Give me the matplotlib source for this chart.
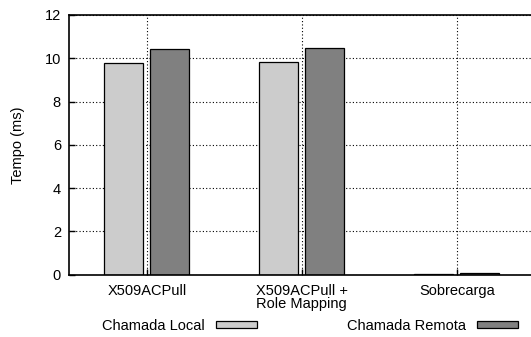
import matplotlib
matplotlib.use("Agg")
import matplotlib.pyplot as plt
import numpy as np

categories = ["X509ACPull", "X509ACPull +\nRole Mapping", "Sobrecarga"]
series_names = ["Chamada Local", "Chamada Remota"]
local_vals = [9.78, 9.81, 0.02]
remote_vals = [10.43, 10.46, 0.05]
yticks = [0, 2, 4, 6, 8, 10, 12]

plt.rcParams['font.family'] = ['Liberation Sans', 'DejaVu Sans']
FS = 10.5

fig = plt.figure(figsize=(5.31, 3.37), dpi=100)
ax = fig.add_axes([69.3/531, 1-274.5/337, 465/531, 259.5/337])

x = np.arange(len(categories))
w = 0.25
off = 0.148
ax.bar(x - off, local_vals, w, color="#cccccc", edgecolor="black", linewidth=0.9,
       label=series_names[0], zorder=3)
ax.bar(x + off, remote_vals, w, color="#808080", edgecolor="black", linewidth=0.9,
       label=series_names[1], zorder=3)

ax.set_xlim(-0.5, 2.5)
ax.set_ylim(0, 12)
ax.set_yticks(yticks)
ax.set_xticks(x)
ax.set_xticklabels(categories, fontsize=FS, linespacing=0.95)
ax.tick_params(axis='y', labelsize=FS, direction='in', length=4, width=1, pad=6)
ax.tick_params(axis='x', direction='in', length=4, width=1, pad=6.5)

ax.grid(True, linestyle=(0, (1, 2)), color='black', linewidth=0.8, zorder=1)
ax.set_axisbelow(True)
for s in ['left', 'bottom', 'top', 'right']:
    ax.spines[s].set_linewidth(1.2)
    ax.spines[s].set_zorder(4)

fig.text(18/531, 1-145/337, "Tempo (ms)", rotation=90, ha='center', va='center', fontsize=FS)

leg = fig.legend(loc='center left', bbox_to_anchor=(102/531, 1-325.7/337), ncol=2,
                 frameon=False, fontsize=FS, markerfirst=False, handlelength=2.8,
                 handleheight=0.3, handletextpad=0.75, columnspacing=6.2,
                 borderpad=0, borderaxespad=0)

fig.savefig("out.png", dpi=100)
